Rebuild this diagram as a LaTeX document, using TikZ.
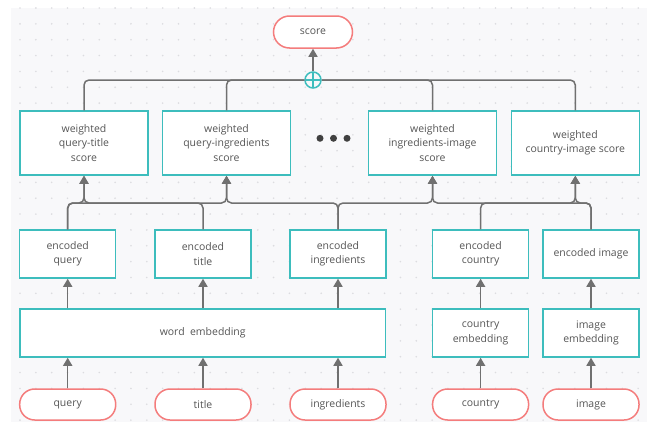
\documentclass[tikz,border=0pt]{standalone}
\usepackage{fontspec}
\setmainfont{Open Sans}
\usepackage{tikz}
\usetikzlibrary{arrows.meta,shapes}
\definecolor{tealc}{HTML}{3DBDBD}
\definecolor{redc}{HTML}{F47C7C}
\definecolor{linec}{HTML}{707070}
\definecolor{textc}{HTML}{555555}
\definecolor{bgc}{HTML}{F8F8FA}
\definecolor{dotc}{HTML}{DCDCE0}

\begin{document}
\begin{tikzpicture}[
  font=\fontsize{10.5}{14.5}\selectfont, text=textc,
  box/.style={draw=tealc,line width=1.5bp,fill=white,align=center,inner sep=0pt,minimum width=96bp,minimum height=48bp},
  wbox/.style={box,minimum width=128bp,minimum height=64bp},
  pill/.style={draw=redc,line width=1.5bp,fill=white,rounded corners=15bp,inner sep=0pt,minimum width=96bp,minimum height=31bp},
  conn/.style={draw=linec,line width=1.5bp,rounded corners=5bp},
  arr/.style={conn,-{Triangle[width=9bp,length=8bp]}}]
\useasboundingbox (0bp,0bp) rectangle (647bp,-422bp);
\fill[bgc] (11bp,-8bp) rectangle (647bp,-422bp);
\foreach \i in {0,...,39}
  \foreach \j in {0,...,26}
    \fill[dotc] ({(20+15.85*\i)*1bp},{-(8+15.85*\j)*1bp}) circle (0.9bp);
% inputs
\node (query) at (67.7bp,-404.5bp)[pill] {query};
\node (title) at (203bp,-404.5bp)[pill] {title};
\node (ingr) at (338bp,-404.5bp)[pill] {ingredients};
\node (country) at (480.6bp,-404.5bp)[pill] {country};
\node (image) at (591bp,-404.5bp)[pill] {image};
% embeddings
\node (we) at (202.7bp,-333bp)[box,minimum width=365.5bp] {word~ embedding};
\node (ce) at (480.6bp,-333bp)[box] {country\\embedding};
\node (ie) at (591bp,-333bp)[box] {image\\embedding};
% encoded
\node (eq) at (67.7bp,-254bp)[box] {encoded\\query};
\node (et) at (203bp,-254bp)[box] {encoded\\title};
\node (ei) at (338bp,-254bp)[box] {encoded\\ingredients};
\node (ec) at (480.6bp,-254bp)[box] {encoded\\country};
\node (eimg) at (591bp,-254bp)[box] {encoded image};
% weighted scores
\node (wqt) at (84bp,-143bp)[wbox] {weighted\\query-title\\score};
\node (wqi) at (226.5bp,-143bp)[wbox] {weighted\\query-ingredients\\score};
\node (wii) at (432.5bp,-143bp)[wbox] {weighted\\ingredients-image\\score};
\node (wci) at (575.3bp,-143bp)[wbox] {weighted\\country-image score};
\foreach \x in {320,333.5,347}
  \fill[black!75] (\x bp,-138.3bp) circle (3.5bp);
% sum and score
\node (sum) at (313bp,-80bp)[draw=tealc,line width=1.5bp,fill=bgc,circle,minimum size=16bp,inner sep=0pt,
  path picture={\draw[tealc,line width=1.5bp] (path picture bounding box.north) -- (path picture bounding box.south)
    (path picture bounding box.west) -- (path picture bounding box.east);}] {};
\node (score) at (313bp,-32bp)[pill,minimum width=79bp,minimum height=32bp,rounded corners=16bp] {score};
\coordinate (busb) at (0bp,-203bp);

\draw [arr] (query) -- (query.north |- we.south);
\draw [arr] (title) -- (title.north |- we.south);
\draw [arr] (ingr) -- (ingr.north |- we.south);
\draw [arr] (country) -- (ce);
\draw [arr] (image) -- (ie);
\draw [arr] (eq.south |- we.north) -- (eq);
\draw [arr] (et.south |- we.north) -- (et);
\draw [arr] (ei.south |- we.north) -- (ei);
\draw [arr] (ce) -- (ec);
\draw [arr] (ie) -- (eimg);
\draw [arr] (eq.north) -- (eq.north |- busb) -| (wqt.south);
\draw [arr] (et.north) -- (et.north |- busb) -| (wqt.south);
\draw [arr] (eq.north) -- (eq.north |- busb) -| (wqi.south);
\draw [arr] (ei.north) -- (ei.north |- busb) -| (wqi.south);
\draw [arr] (ei.north) -- (ei.north |- busb) -| (wii.south);
\draw [arr] (eimg.north) -- (eimg.north |- busb) -| (wii.south);
\draw [arr] (ec.north) -- (ec.north |- busb) -| (wci.south);
\draw [arr] (eimg.north) -- (eimg.north |- busb) -| (wci.south);
\draw [conn] (wqt.north) |- (sum.west);
\draw [conn] (wqi.north) |- (sum.west);
\draw [conn] (wii.north) |- (sum.east);
\draw [conn] (wci.north) |- (sum.east);
\draw [arr] (sum) -- (score);
\end{tikzpicture}
\end{document}
